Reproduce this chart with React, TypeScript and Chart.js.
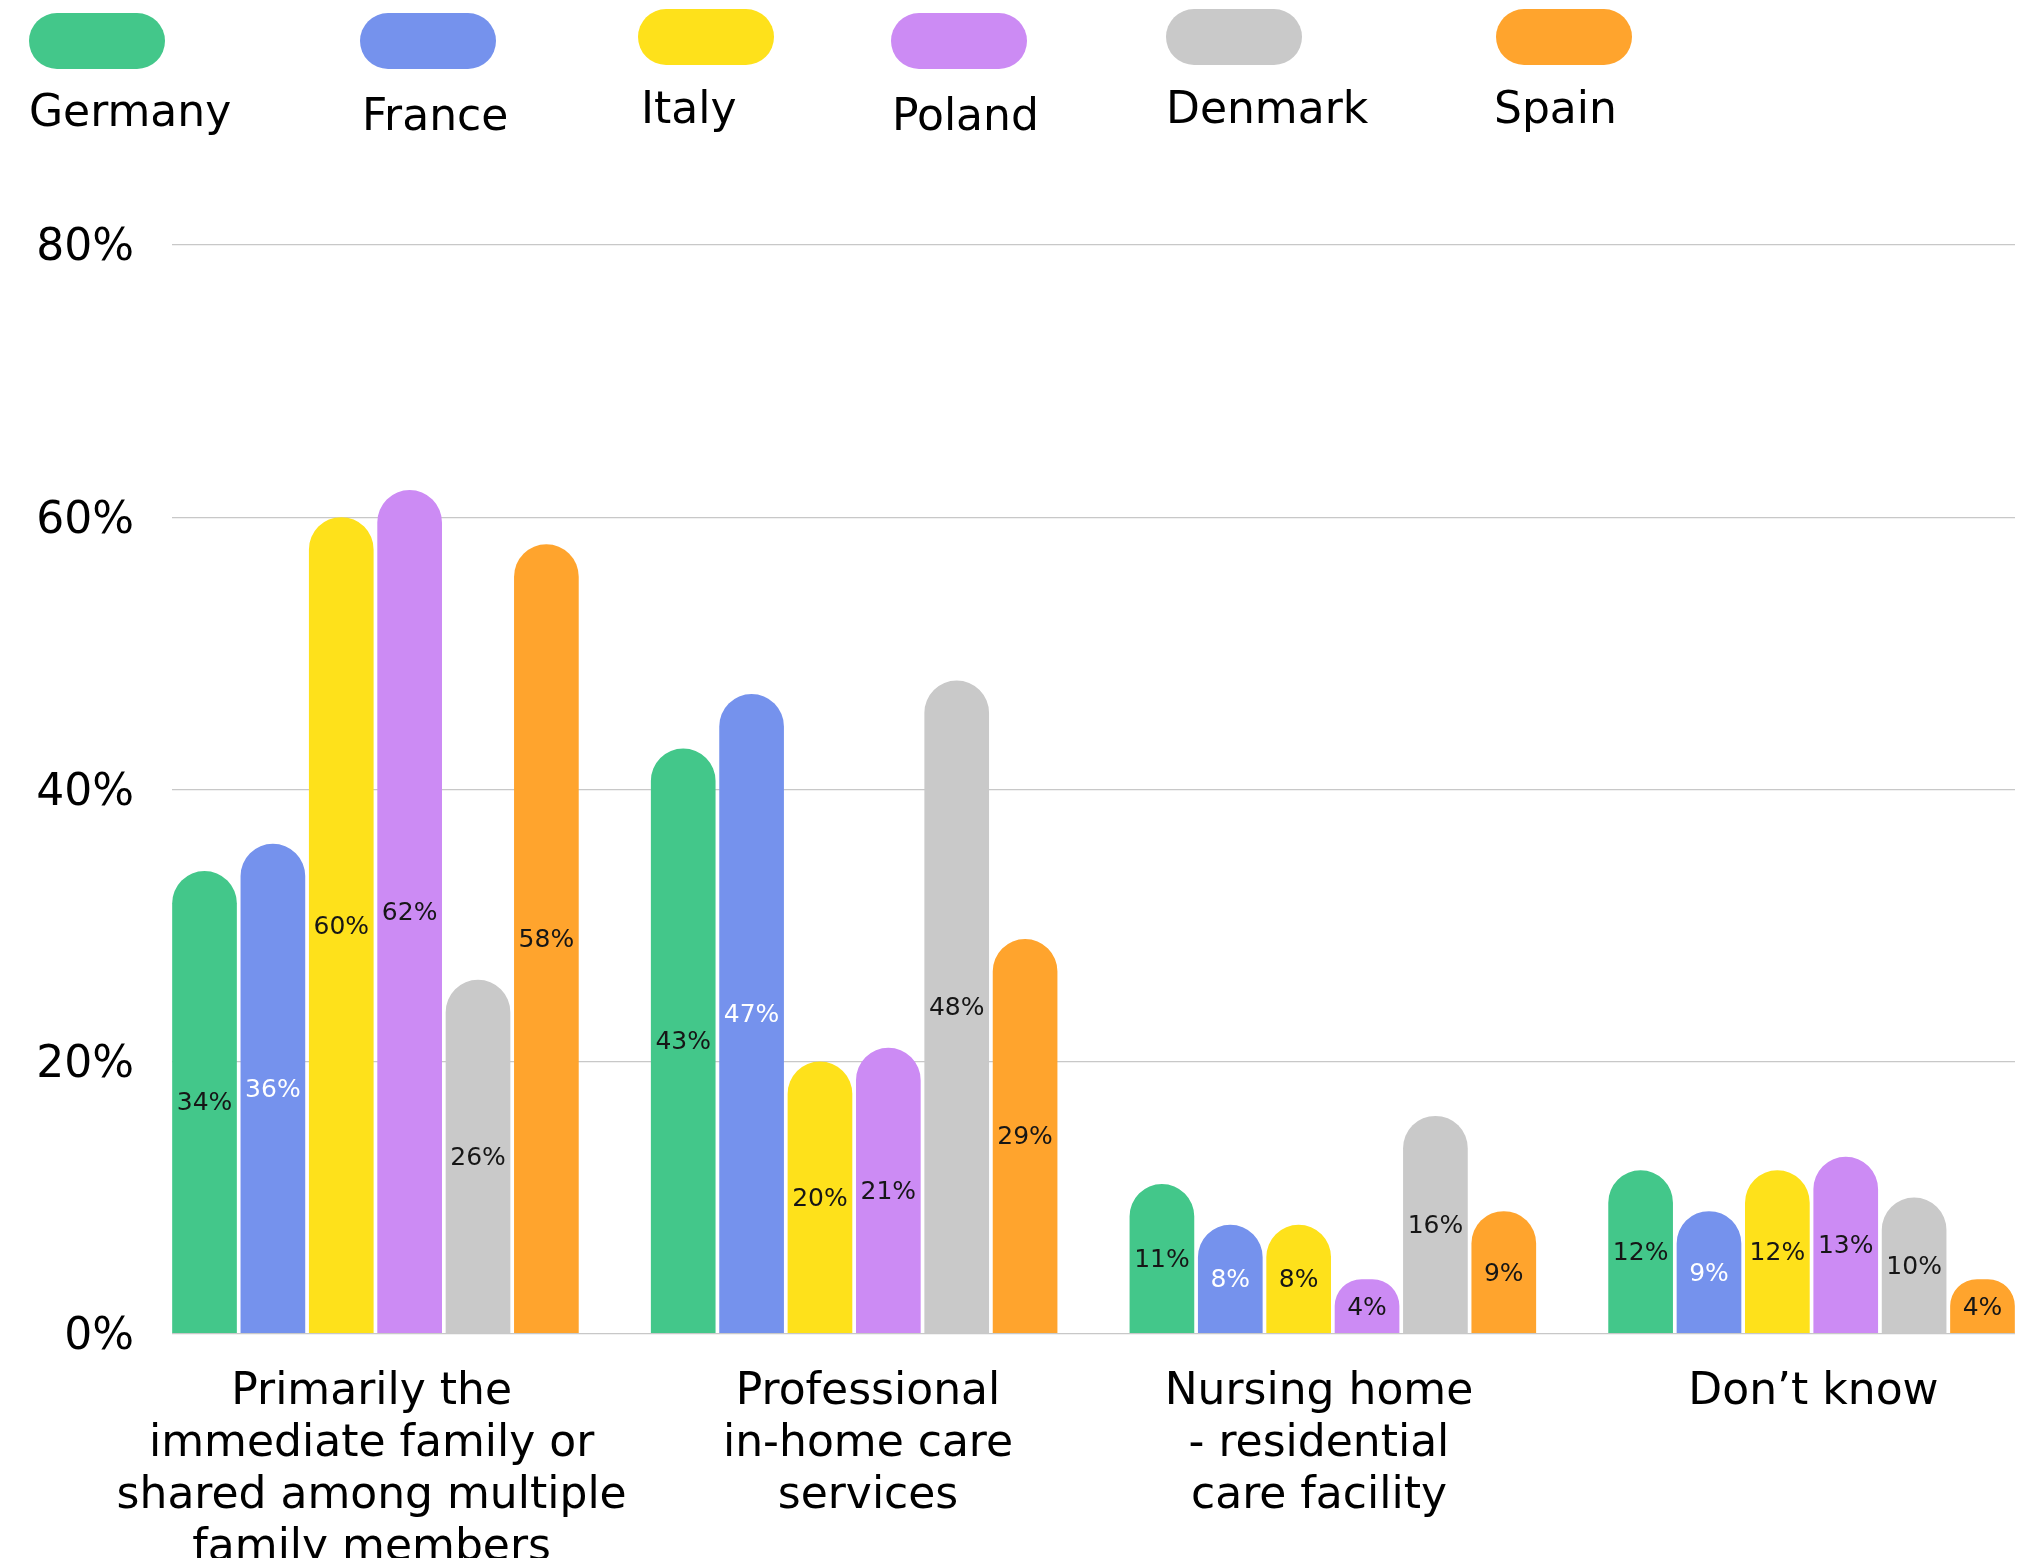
import React, { useEffect, useRef } from 'react';
import { Chart, registerables } from 'chart.js';

Chart.register(...registerables);

const categoryLabels: string[][] = [
  ['Primarily the', 'immediate family or', 'shared among multiple', 'family members'],
  ['Professional', 'in-home care', 'services'],
  ['Nursing home', '- residential', 'care facility'],
  ['Don’t know'],
];
const countries = ['Germany', 'France', 'Italy', 'Poland', 'Denmark', 'Spain'];
const germany = [34, 43, 11, 12];
const france = [36, 47, 8, 9];
const italy = [60, 20, 8, 12];
const poland = [62, 21, 4, 13];
const denmark = [26, 48, 16, 10];
const spain = [58, 29, 9, 4];
const seriesValues = [germany, france, italy, poland, denmark, spain];
const yTickValues = [0, 20, 40, 60, 80];

// style: small horizontal nudges of the category labels (in category units)
const labelNudge = [-0.008, 0.029, -0.029, 0.004];
const tickPositions = categoryLabels.map((_, i) => i + labelNudge[i]);
// Chart.js sizes bars from the smallest spacing of data points and ticks
const minTickGap = Math.min(1, ...tickPositions.slice(1).map((p, i) => p - tickPositions[i]));
const groupFraction = 0.857;

const colors = ['#43c78a', '#7592ed', '#fee11b', '#cc8bf4', '#c9c9c9', '#ffa42d'];
const labelColors = ['#161616', '#ffffff', '#161616', '#161616', '#161616', '#161616'];
const legendLayout = [
  { sx: 21, sy: 5, tx: 21, ty: 118 },
  { sx: 352, sy: 5, tx: 354, ty: 122 },
  { sx: 630, sy: 1, tx: 633, ty: 115 },
  { sx: 883, sy: 5, tx: 884, ty: 122 },
  { sx: 1158, sy: 1, tx: 1158, ty: 115 },
  { sx: 1488, sy: 1, tx: 1486, ty: 115 },
];
const FONT = '"DejaVu Sans", sans-serif';

const legendPlugin = {
  id: 'customLegend',
  afterDraw(chart: any) {
    const ctx = chart.ctx;
    ctx.save();
    countries.forEach((name, i) => {
      const p = legendLayout[i];
      ctx.fillStyle = colors[i];
      ctx.beginPath();
      ctx.roundRect(p.sx, p.sy, 136, 56, 28);
      ctx.fill();
      ctx.fillStyle = '#000';
      ctx.font = `44px ${FONT}`;
      ctx.textAlign = 'left';
      ctx.textBaseline = 'alphabetic';
      ctx.fillText(name, p.tx, p.ty);
    });
    ctx.restore();
  },
};

const valueLabelPlugin = {
  id: 'valueLabels',
  afterDatasetsDraw(chart: any) {
    const ctx = chart.ctx;
    ctx.save();
    ctx.font = `25px ${FONT}`;
    ctx.textAlign = 'center';
    ctx.textBaseline = 'middle';
    chart.data.datasets.forEach((ds: any, di: number) => {
      const meta = chart.getDatasetMeta(di);
      meta.data.forEach((el: any, i: number) => {
        const v = ds.data[i].y;
        ctx.fillStyle = labelColors[di];
        ctx.fillText(`${v}%`, el.x, (el.y + el.base) / 2 + 2);
      });
    });
    ctx.restore();
  },
};

export default function App() {
  const ref = useRef<HTMLCanvasElement>(null);

  useEffect(() => {
    if (!ref.current) return;
    const chart = new Chart(ref.current, {
      type: 'bar',
      data: {
        datasets: countries.map((name, di) => ({
          label: name,
          data: seriesValues[di].map((v, i) => ({ x: i, y: v })),
          backgroundColor: colors[di],
          borderWidth: 0,
          borderRadius: 200,
          borderSkipped: 'start',
          barPercentage: 0.946,
          categoryPercentage: groupFraction / minTickGap,
        })),
      },
      options: {
        responsive: false,
        animation: false,
        devicePixelRatio: 1,
        layout: { padding: { top: 237, right: 21, left: 0, bottom: 0 } },
        plugins: { legend: { display: false }, tooltip: { enabled: false } },
        scales: {
          x: {
            type: 'linear',
            bounds: 'data',
            offset: false,
            min: -0.425,
            max: 3.425,
            grid: { display: false, offset: false },
            border: { display: false },
            afterBuildTicks: (axis: any) => {
              axis.ticks = tickPositions.map((value) => ({ value }));
            },
            afterFit: (s: any) => {
              s.height = 224.4;
            },
            ticks: {
              autoSkip: false,
              maxRotation: 0,
              minRotation: 0,
              padding: 25,
              color: '#000',
              font: { family: FONT, size: 44, lineHeight: 52 / 44 },
              callback: (value: any) => categoryLabels[Math.round(value)] ?? '',
            },
          },
          y: {
            min: 0,
            max: 80,
            grid: { color: '#c8c8c8', lineWidth: 1.2, drawTicks: false },
            border: { display: false },
            afterBuildTicks: (axis: any) => {
              axis.ticks = yTickValues.map((v) => ({ value: v }));
            },
            afterFit: (s: any) => {
              s.width = 164;
            },
            ticks: {
              padding: 38,
              labelOffset: 4,
              color: '#000',
              font: { family: FONT, size: 44 },
              callback: (v: any) => `${v}%`,
            },
          },
        },
      },
      plugins: [legendPlugin, valueLabelPlugin],
    } as any);
    return () => chart.destroy();
  }, []);

  return <canvas ref={ref} width={2028} height={1550} style={{ display: 'block' }} />;
}
